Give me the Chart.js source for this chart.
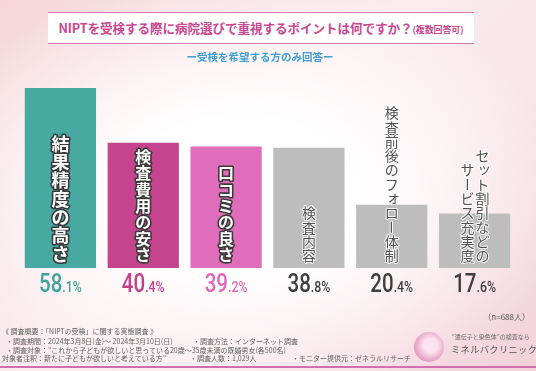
<!DOCTYPE html>
<html>
<head>
<meta charset="utf-8">
<script src="https://cdn.jsdelivr.net/npm/chart.js@4.4.1/dist/chart.umd.min.js"></script>
<style>
  html, body { margin:0; padding:0; }
  body {
    width:536px; height:371px; overflow:hidden; position:relative;
    font-family:"Noto Sans CJK JP", sans-serif;
    background:
      radial-gradient(ellipse 62% 58% at 45% 52%, #ffffff 35%, rgba(255,255,255,0) 100%),
      linear-gradient(135deg, #f6d6da 0%, #fbecee 45%, #f9e6ea 65%, #f3d2da 100%);
  }
  #wrap { position:absolute; left:0; top:0; width:536px; height:371px; }
  .titlebox {
    position:absolute; left:48px; top:12px; width:426px; height:30px;
    background:#fff; border-top:1.5px solid #d77bb7; border-bottom:1.5px solid #d77bb7;
    text-align:center; line-height:30px; color:#c9478f; font-weight:bold; font-size:12.6px;
    white-space:nowrap; letter-spacing:-0.1px;
  }
  .titlebox small { font-size:9px; }
  .sub { position:absolute; left:0; width:520px; top:49px; text-align:center;
    color:#3d9fd2; font-size:10.5px; font-weight:bold; }
  .n { position:absolute; right:6px; top:311px; font-size:8px; color:#555; }
  .ft { position:absolute; font-size:7px; color:#606060; white-space:nowrap; line-height:9px; }
  .bottomline { position:absolute; left:0; top:366px; width:536px; height:2px; background:#cf6fb0; }
  .logo { position:absolute; left:414px; top:332px; width:30px; height:30px; border-radius:50%;
    background:radial-gradient(circle at 55% 45%, #fbe3ef 30%, #e59ac3 70%); }
  .logo1 { position:absolute; left:452px; top:332px; font-size:6px; color:#666; white-space:nowrap; }
  .logo2 { position:absolute; left:451px; top:342px; font-size:9.2px; color:#555; letter-spacing:0.4px; white-space:nowrap; }
</style>
</head>
<body>
<div id="wrap"><canvas id="miGrafica"></canvas></div>
<div class="titlebox">NIPTを受検する際に病院選びで重視するポイントは何ですか？<small>(複数回答可)</small></div>
<div class="sub">ー受検を希望する方のみ回答ー</div>
<div class="n">（n=688人）</div>
<div class="ft" style="left:2px;top:327px">《 調査概要：「NIPTの受検」に関する実態調査 》</div>
<div class="ft" style="left:6px;top:337px">・調査期間：2024年3月8日(金)〜 2024年3月10日(日)</div>
<div class="ft" style="left:193px;top:337px">・調査方法：インターネット調査</div>
<div class="ft" style="left:6px;top:346px">・調査対象：”これから子どもが欲しいと思っている20歳〜35歳未満の既婚男女(各500名)</div>
<div class="ft" style="left:2px;top:354px">対象者注釈：新たに子どもが欲しいと考えている方”</div>
<div class="ft" style="left:190px;top:354px">・調査人数：1,029人</div>
<div class="ft" style="left:292px;top:354px">・モニター提供元：ゼネラルリサーチ</div>
<div class="logo"></div>
<div class="logo1">“遺伝子と染色体”の検査なら</div>
<div class="logo2">ミネルバクリニック</div>
<div class="bottomline"></div>
<script>
// データ
const categorias = ['結果精度の高さ', '検査費用の安さ', '口コミの良さ', '検査内容', '検査前後のフォロー体制', ['セット割引などの', 'サービス充実度']];
const valores = [58.1, 40.4, 39.2, 38.8, 20.4, 17.6];

// 色とサイズ
const colorBarra = ['#47a9a2', '#c6448d', '#e06dbb', '#bdbdbd', '#bdbdbd', '#bdbdbd'];
const colorValor = ['#41a39c', '#c2408a', '#df68b8', '#3d3d3d', '#3d3d3d', '#3d3d3d'];
const tamLetra = [18, 16, 16, 14, 14, 14];

const pequenas = 'ッォャュョァィゥェ';

function textoVertical(ctx, txt, x, yBottom, size, bold, fill, stroke) {
  ctx.font = (bold ? 'bold ' : '') + size + 'px "Noto Sans CJK JP"';
  ctx.textAlign = 'center';
  ctx.textBaseline = 'middle';
  const chars = Array.from(txt);
  const step = size * 1.02;
  let y = yBottom - step * chars.length + step / 2;
  chars.forEach(ch => {
    ctx.save();
    let dx = 0, dy = 0;
    if (pequenas.includes(ch)) { dx = size * 0.12; dy = -size * 0.12; }
    ctx.translate(x + dx, y + dy);
    if (ch === 'ー') ctx.rotate(Math.PI / 2);
    ctx.lineJoin = 'round';
    if (stroke) { ctx.strokeStyle = stroke.c; ctx.lineWidth = stroke.w; ctx.strokeText(ch, 0, 0); }
    ctx.fillStyle = fill;
    ctx.fillText(ch, 0, 0);
    ctx.restore();
    y += step;
  });
}

const etiquetas = {
  id: 'etiquetas',
  afterDatasetsDraw(chart) {
    const ctx = chart.ctx;
    const meta = chart.getDatasetMeta(0);
    const base = chart.chartArea.bottom;
    meta.data.forEach((bar, i) => {
      const lab = categorias[i];
      const gris = i >= 3;
      const fill = gris ? '#505050' : '#ffffff';
      const stroke = gris ? {c: 'rgba(255,255,255,0.9)', w: 2} : {c: '#3a3a3a', w: 3.2};
      if (Array.isArray(lab)) {
        textoVertical(ctx, lab[0], bar.x + 8, base - 5, tamLetra[i], false, fill, stroke);
        textoVertical(ctx, lab[1], bar.x - 7, base - 5, tamLetra[i], false, fill, stroke);
      } else {
        textoVertical(ctx, lab, bar.x, base - 5, tamLetra[i], !gris, fill, stroke);
      }
      // valor
      const v = valores[i].toFixed(1);
      const ent = v.split('.')[0];
      const dec = '.' + v.split('.')[1] + '%';
      ctx.save();
      ctx.fillStyle = colorValor[i];
      ctx.textBaseline = 'alphabetic';
      ctx.textAlign = 'left';
      const fBig = '500 25px Roboto', fSmall = '500 15px Roboto';
      ctx.font = fBig; const w1 = ctx.measureText(ent).width;
      ctx.font = fSmall; const w2 = ctx.measureText(dec).width;
      const sx = 0.82;
      const total = (w1 + w2) * sx;
      ctx.translate(bar.x - total / 2, 292);
      ctx.scale(sx, 1);
      ctx.font = fBig; ctx.fillText(ent, 0, 0);
      ctx.font = fSmall; ctx.fillText(dec, w1, 0);
      ctx.restore();
    });
  }
};

const graf = document.getElementById('miGrafica').getContext('2d');
const myChart = new Chart(graf, {
  type: 'bar',
  data: {
    labels: categorias,
    datasets: [{
      data: valores,
      backgroundColor: colorBarra,
      borderWidth: 0,
      categoryPercentage: 1,
      barPercentage: 0.86
    }]
  },
  options: {
    responsive: true,
    maintainAspectRatio: false,
    animation: false,
    layout: { padding: { left: 19, right: 20, top: 82, bottom: 103 } },
    scales: {
      x: { display: false },
      y: { display: false, min: 0, max: 60 }
    },
    plugins: { legend: { display: false }, tooltip: { enabled: false } }
  },
  plugins: [etiquetas]
});
</script>
</body>
</html>
